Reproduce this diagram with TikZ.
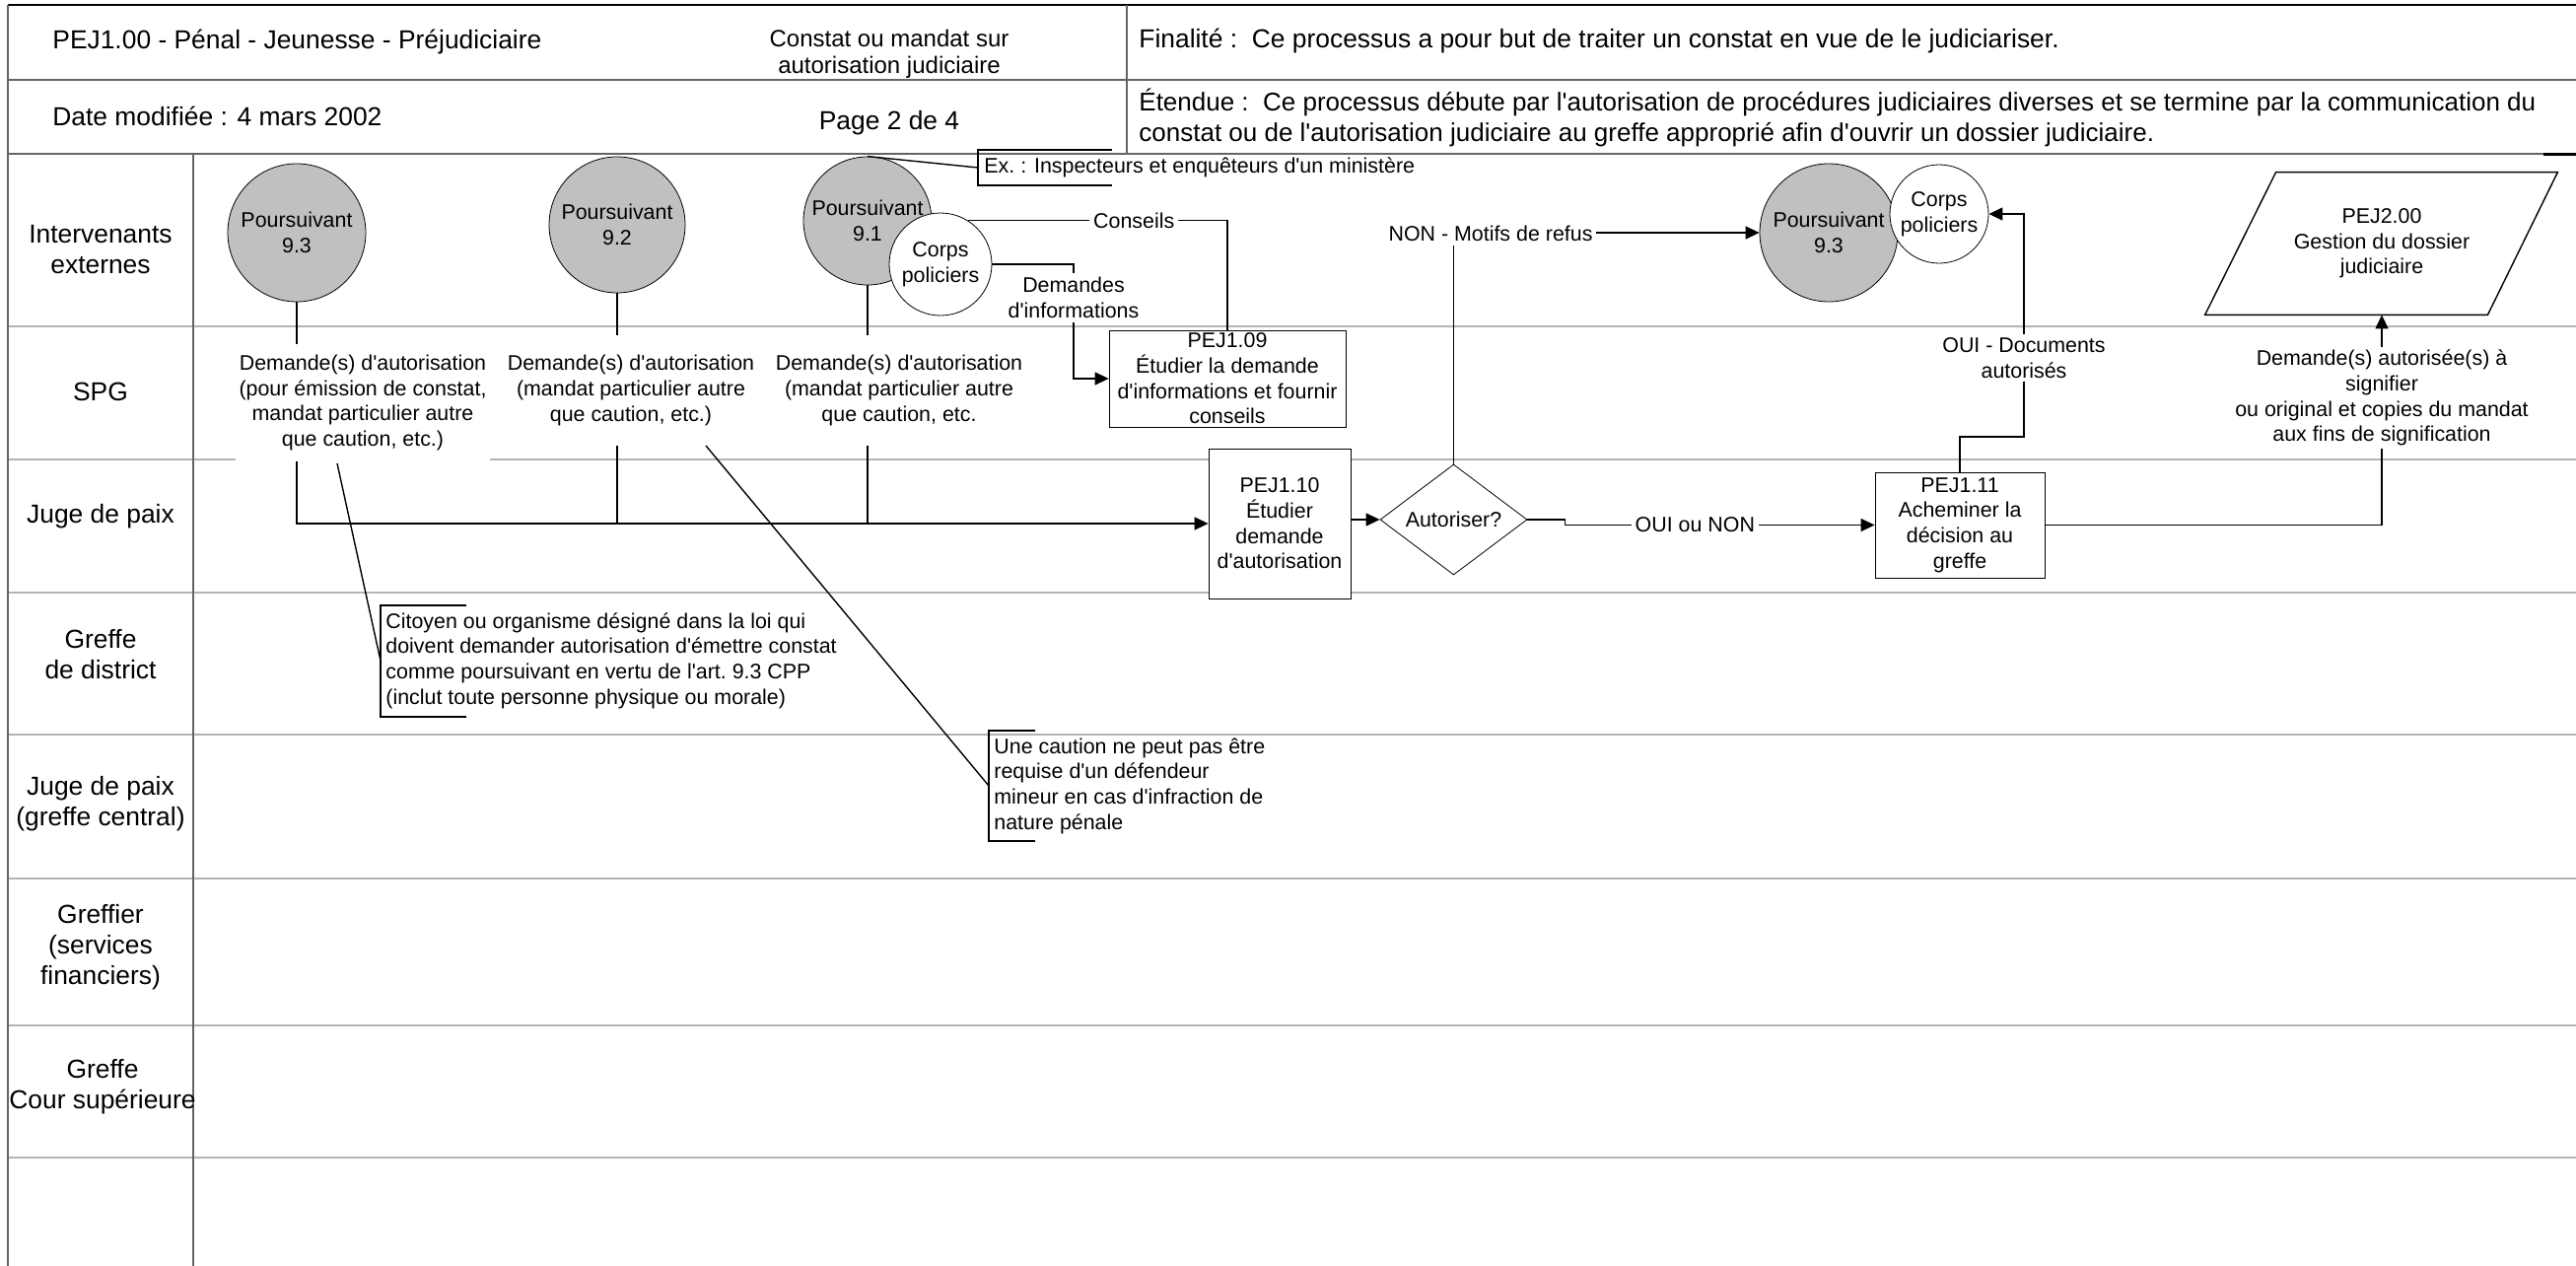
\documentclass[tikz,border=0pt]{standalone}
\usepackage{fontspec}
\setmainfont{Liberation Sans}[Ligatures=TeXOff]
\usetikzlibrary{arrows.meta,shapes.geometric,calc}
\definecolor{poursgris}{RGB}{192,192,192}
\definecolor{couloir}{RGB}{180,180,180}
\definecolor{cadre}{RGB}{100,100,100}

\begin{document}
\begin{tikzpicture}[x=0.5pt,y=-0.5pt,
	texte/.style={font=\fontsize{10.7}{12.85}\selectfont, align=center, inner sep=3pt},
	entete/.style={font=\fontsize{13.2}{15.5}\selectfont, anchor=west, align=left, inner sep=0pt},
	couloirtxt/.style={font=\fontsize{13.2}{15.5}\selectfont, align=center},
	acteur/.style={circle, draw, fill=poursgris, texte, inner sep=0pt},
	police/.style={circle, draw, fill=white, texte, inner sep=0pt},
	etape/.style={rectangle, draw, fill=white, texte, inner sep=0pt},
	demande/.style={texte, fill=white, inner xsep=2pt},
	lbl/.style={texte, fill=white, inner sep=2pt},
	note/.style={texte, align=left, anchor=west, inner sep=0pt},
	fleche/.style={-{Triangle[length=7pt,width=6.5pt]}},
	lien/.style={line width=0.7pt}]
	\useasboundingbox (0,0) rectangle (2613,1284);

	\foreach \y in {331,466,601,745,891,1040,1174}
		\draw[couloir, line width=0.75pt] (8,\y) -- (2613,\y);
	\draw[line width=0.75pt] (8,5) -- (2613,5);
	\draw[cadre, line width=0.75pt] (8,81) -- (2613,81);
	\draw[cadre, line width=0.75pt] (8,156) -- (2580,156);
	\draw[line width=1.5pt] (2580,157) -- (2613,157);
	\draw[cadre, line width=0.75pt] (1143,5) -- (1143,156);
	\draw[cadre, line width=1pt] (8,5) -- (8,1284);
	\draw[cadre, line width=1pt] (196,156) -- (196,1284);

	\node[entete] (titre) at (53,43) {PEJ1.00 - Pénal - Jeunesse - Préjudiciaire};
	\node[entete] (date) at (53,118) {Date modifiée : 4 mars 2002};
	\node[font=\fontsize{12}{13.5}\selectfont, align=center] (constat) at (902,55) {Constat ou mandat sur\\autorisation judiciaire};
	\node[font=\fontsize{13.2}{15.5}\selectfont] (page) at (902,125) {Page 2 de 4};
	\node[entete] (finalite) at (1155,42) {Finalité :\ \ Ce processus a pour but de traiter un constat en vue de le judiciariser.};
	\node[entete, font=\fontsize{13}{15.5}\selectfont] (etendue) at (1155,119.5) {Étendue :\ \ Ce processus débute par l'autorisation de procédures judiciaires diverses et se termine par la communication du\\constat ou de l'autorisation judiciaire au greffe approprié afin d'ouvrir un dossier judiciaire.};

	\node[couloirtxt] (c1) at (102,253) {Intervenants\\externes};
	\node[couloirtxt] (c2) at (102,397) {SPG};
	\node[couloirtxt] (c3) at (102,524) {Juge de paix};
	\node[couloirtxt] (c4) at (102,664) {Greffe\\de district};
	\node[couloirtxt] (c5) at (102,815) {Juge de paix\\(greffe central)};
	\node[couloirtxt] (c6) at (102,961) {Greffier\\(services\\financiers)};
	\node[couloirtxt] (c7) at (104,1102) {Greffe\\Cour supérieure};

	\node[acteur, minimum size=70pt] (p93) at (301,236) {Poursuivant\\9.3};
	\node[acteur, minimum size=69pt] (p92) at (626,228) {Poursuivant\\9.2};
	\node[acteur, minimum size=65pt] (p91) at (880,224) {Poursuivant\\9.1};
	\node[police, minimum size=52pt] (corps1) at (954,268) {Corps\\policiers};
	\node[acteur, minimum size=70pt] (p93r) at (1855,236) {Poursuivant\\9.3};
	\node[police, minimum size=50pt] (corps2) at (1967,217) {Corps\\policiers};

	\node[etape, minimum width=120pt, minimum height=49pt] (pej109) at (1245,384) {PEJ1.09\\Étudier la demande\\d'informations et fournir\\conseils};
	\node[etape, minimum width=72pt, minimum height=76pt] (pej110) at (1298,531) {PEJ1.10\\Étudier\\demande\\d'autorisation};
	\node[diamond, aspect=1.33, draw, fill=white, texte, inner sep=0pt, minimum width=74.5pt, minimum height=56pt] (aut) at (1474.5,527) {Autoriser?};
	\node[etape, minimum width=86pt, minimum height=53.5pt] (pej111) at (1988,532.5) {PEJ1.11\\Acheminer la\\décision au\\greffe};
	\node[texte, inner sep=0pt, minimum width=107pt, minimum height=72pt] (pej200) at (2416,247) {PEJ2.00\\Gestion du dossier\\judiciaire};
	\draw[lien] (pej200.north west) -- ($(pej200.north east)+(71,0)$) -- (pej200.south east) -- ($(pej200.south west)+(-72,0)$) -- cycle;

	\node[demande, inner ysep=5.5pt] (dem93) at (368,408.5) {Demande(s) d'autorisation\\(pour émission de constat,\\mandat particulier autre\\que caution, etc.)};
	\node[demande, inner ysep=9.75pt] (dem92) at (640,396) {Demande(s) d'autorisation\\(mandat particulier autre\\que caution, etc.)};
	\node[demande, inner ysep=9.75pt] (dem91) at (912,396) {Demande(s) d'autorisation\\(mandat particulier autre\\que caution, etc.};
	\node[demande, inner ysep=1pt] (dem2) at (2416,403.5) {Demande(s) autorisée(s) à\\signifier\\ou original et copies du mandat\\aux fins de signification};

	\draw[lien] (p93.south) -- (p93.south |- dem93.north);
	\draw[lien, fleche] (p93.south |- dem93.south) |- (pej110.west);
	\draw[lien] (p92.south) -- (p92.south |- dem92.north);
	\draw[lien] (p92.south |- dem92.south) -- (p92.south |- pej110.west);
	\draw[lien] (p91.south) -- (p91.south |- dem91.north);
	\draw[lien] (p91.south |- dem91.south) -- (p91.south |- pej110.west);

	\draw[lien] (pej109.north) |- (corps1.58) node[lbl, pos=0.68] (lblcons) {Conseils};
	\coordinate (coindi) at (1089,268);
	\draw[lien, fleche] (corps1.east) -- (coindi) |- (pej109.west);
	\node[lbl] (lbldi) at (1089,302) {Demandes\\d'informations};

	\draw[lien, fleche] (pej110.east |- aut.west) -- (aut.west);
	\draw[lien, fleche] (aut.north) |- (p93r.west);
	\node[lbl] (lblnon) at (1512,237) {NON - Motifs de refus};
	\draw[lien, fleche] (aut.east) -- ++(38,0) |- (pej111.west) node[lbl, pos=0.71] (lbloui) {OUI ou NON};

	\coordinate (coindoc) at (2053,443);
	\draw[lien, fleche] (pej111.north) |- (coindoc) |- (corps2.east);
	\node[lbl] (lbldoc) at (2053,363) {OUI - Documents\\autorisés};
	\draw[lien] (pej111.east) -| (dem2.south);
	\draw[lien, fleche] (dem2.north) -- (pej200.south);

	\node[note] (noteex) at (998,170) {Ex.\ : Inspecteurs et enquêteurs d'un ministère};
	\draw[lien] (noteex.west) ++(130,-18) -| ++(-136,36) -- ++(136,0);
	\draw[lien] (p91.north) -- ($(noteex.west)+(-6,0)$);

	\node[note] (notecit) at (391,670) {Citoyen ou organisme désigné dans la loi qui\\doivent demander autorisation d'émettre constat\\comme poursuivant en vertu de l'art.\ 9.3 CPP\\(inclut toute personne physique ou morale)};
	\draw[lien] (notecit.west) ++(82,-56) -| ++(-87,113) -- ++(87,0);
	\coordinate (cit0) at (342,470);
	\draw[lien] (cit0) -- ($(notecit.west)+(-5,0)$);

	\node[note] (notecau) at (1008,797) {Une caution ne peut pas être\\requise d'un défendeur\\mineur en cas d'infraction de\\nature pénale};
	\draw[lien] (notecau.west) ++(42,-56) -| ++(-47,112) -- ++(47,0);
	\coordinate (cau0) at (716,452);
	\draw[lien] (cau0) -- ($(notecau.west)+(-5,0)$);
\end{tikzpicture}
\end{document}
